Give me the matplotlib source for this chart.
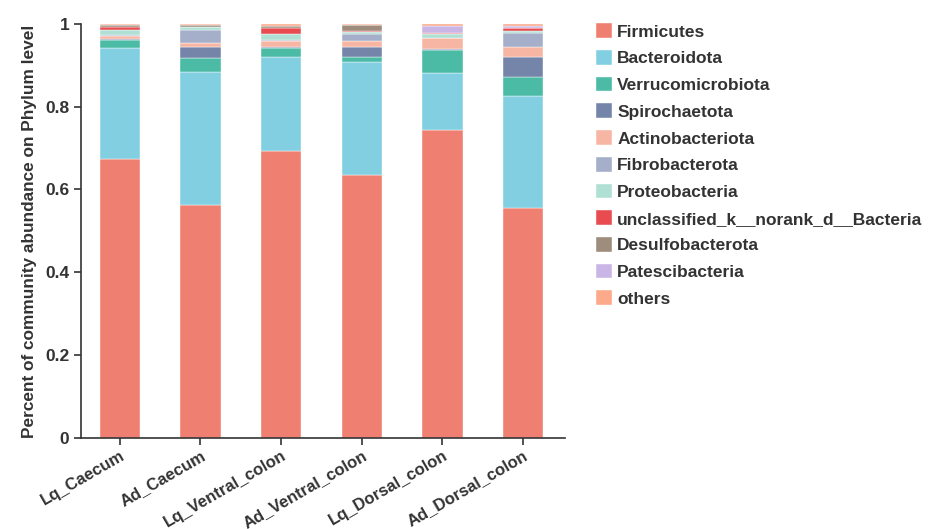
import matplotlib.pyplot as plt
import numpy as np

plt.rcParams['font.family'] = ['Liberation Sans', 'DejaVu Sans']

samples = ["Lq_Caecum", "Ad_Caecum", "Lq_Ventral_colon",
           "Ad_Ventral_colon", "Lq_Dorsal_colon", "Ad_Dorsal_colon"]

phyla = ["Firmicutes", "Bacteroidota", "Verrucomicrobiota", "Spirochaetota",
         "Actinobacteriota", "Fibrobacterota", "Proteobacteria",
         "unclassified_k__norank_d__Bacteria", "Desulfobacterota",
         "Patescibacteria", "others"]

# relative abundance per phylum, one value per sample
firmicutes        = [0.674, 0.563, 0.693, 0.635, 0.744, 0.556]
bacteroidota      = [0.267, 0.321, 0.228, 0.272, 0.137, 0.269]
verrucomicrobiota = [0.019, 0.033, 0.020, 0.012, 0.055, 0.046]
spirochaetota     = [0.004, 0.027, 0.004, 0.026, 0.003, 0.050]
actinobacteriota  = [0.007, 0.009, 0.014, 0.014, 0.026, 0.023]
fibrobacterota    = [0.002, 0.033, 0.002, 0.017, 0.001, 0.035]
proteobacteria    = [0.011, 0.006, 0.015, 0.005, 0.010, 0.004]
unclassified      = [0.009, 0.000, 0.013, 0.001, 0.001, 0.006]
desulfobacterota  = [0.004, 0.004, 0.005, 0.015, 0.002, 0.002]
patescibacteria   = [0.000, 0.000, 0.001, 0.001, 0.016, 0.003]
others            = [0.003, 0.004, 0.005, 0.002, 0.005, 0.006]

series = [firmicutes, bacteroidota, verrucomicrobiota, spirochaetota,
          actinobacteriota, fibrobacterota, proteobacteria, unclassified,
          desulfobacterota, patescibacteria, others]

colors = ["#EF7F70", "#82CFE2", "#4BBBA6", "#7585A9", "#F7B6A3", "#A5AFC9",
          "#AFE0D3", "#E84C50", "#9E8C7D", "#CAB6E6", "#FDA98B"]

fig = plt.figure(figsize=(9.29, 5.29), dpi=100)
ax = fig.add_axes([0.0872, 0.172, 0.521, 0.783])

x = np.arange(len(samples))
bottom = np.zeros(len(samples))
handles = []
for name, vals, c in zip(phyla, series, colors):
    vals = np.array(vals)
    b = ax.bar(x, vals, width=0.5, bottom=bottom, color=c,
               edgecolor="white", linewidth=0.3, label=name)
    handles.append(b)
    bottom += vals

ax.set_xlim(-0.48, 5.52)
ax.set_ylim(0, 1)
ax.set_yticks([0, 0.2, 0.4, 0.6, 0.8, 1])
ax.set_yticklabels(["0", "0.2", "0.4", "0.6", "0.8", "1"])
ax.set_xticks(x)
ax.set_xticklabels(samples, rotation=30, ha="right", rotation_mode="anchor")

for side in ["top", "right"]:
    ax.spines[side].set_visible(False)
for side in ["left", "bottom"]:
    ax.spines[side].set_color("#333333")
    ax.spines[side].set_linewidth(1.2)
ax.tick_params(axis="both", direction="out", length=5, width=1.2,
               color="#333333", labelsize=12.5, labelcolor="#333333")
ax.tick_params(axis="x", pad=2, labelsize=12)
for lab in ax.get_xticklabels() + ax.get_yticklabels():
    lab.set_fontweight("bold")

ax.set_ylabel("Percent of community abundance on Phylum level",
              fontsize=12.4, fontweight="bold", color="#333333", labelpad=6)

leg = fig.legend(handles, phyla, loc="upper left",
                 bbox_to_anchor=(0.634, 0.969), frameon=False,
                 handlelength=0.92, handleheight=0.92, handletextpad=0.3,
                 labelspacing=0.6, borderaxespad=0,
                 prop={"weight": "bold", "size": 12.5})
for t in leg.get_texts():
    t.set_color("#333333")

fig.savefig("out.png", dpi=100)
